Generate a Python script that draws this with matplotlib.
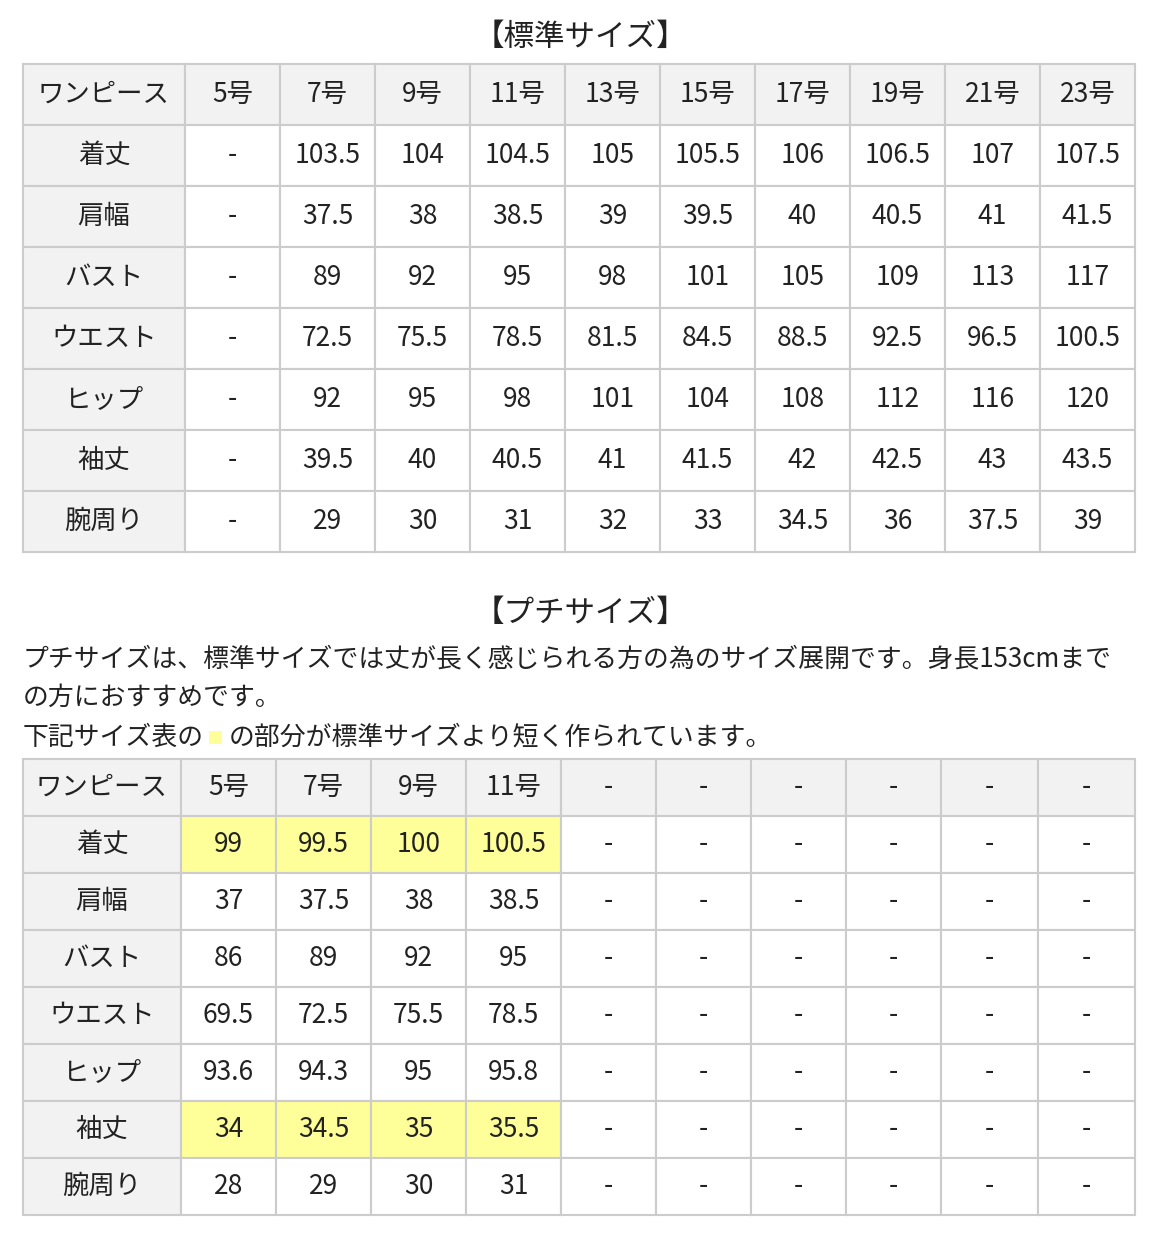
import matplotlib.pyplot as plt
from matplotlib.patches import Rectangle

plt.rcParams["font.family"] = "Noto Sans CJK JP"

row_labels = ["着丈", "肩幅", "バスト", "ウエスト", "ヒップ", "袖丈", "腕周り"]

std_sizes = ["5号", "7号", "9号", "11号", "13号", "15号", "17号", "19号", "21号", "23号"]
std_values = [
    ["-", "103.5", "104", "104.5", "105", "105.5", "106", "106.5", "107", "107.5"],
    ["-", "37.5", "38", "38.5", "39", "39.5", "40", "40.5", "41", "41.5"],
    ["-", "89", "92", "95", "98", "101", "105", "109", "113", "117"],
    ["-", "72.5", "75.5", "78.5", "81.5", "84.5", "88.5", "92.5", "96.5", "100.5"],
    ["-", "92", "95", "98", "101", "104", "108", "112", "116", "120"],
    ["-", "39.5", "40", "40.5", "41", "41.5", "42", "42.5", "43", "43.5"],
    ["-", "29", "30", "31", "32", "33", "34.5", "36", "37.5", "39"],
]

petite_sizes = ["5号", "7号", "9号", "11号", "-", "-", "-", "-", "-", "-"]
petite_values = [
    ["99", "99.5", "100", "100.5"],
    ["37", "37.5", "38", "38.5"],
    ["86", "89", "92", "95"],
    ["69.5", "72.5", "75.5", "78.5"],
    ["93.6", "94.3", "95", "95.8"],
    ["34", "34.5", "35", "35.5"],
    ["28", "29", "30", "31"],
]
petite_highlight_rows = [0, 5]

GRAY = "#f2f2f2"
EDGE = "#cccccc"
YELLOW = "#ffff99"
FS = 19

fig = plt.figure(figsize=(11.6, 12.6), dpi=100)
ax = fig.add_axes([0, 0, 1, 1])
ax.set_xlim(0, 1160)
ax.set_ylim(1260, 0)
ax.axis("off")


def draw_table(top, row_h, col_x, header, rows, highlight):
    n_rows = len(rows) + 1
    for r in range(n_rows):
        y = top + r * row_h
        for c in range(len(col_x) - 1):
            x0, x1 = col_x[c], col_x[c + 1]
            if r == 0 or c == 0:
                fc = GRAY
            elif (r - 1, c - 1) in highlight:
                fc = YELLOW
            else:
                fc = "white"
            ax.add_patch(Rectangle((x0, y), x1 - x0, row_h, fc=fc, ec=EDGE, lw=1.5))
            if r == 0:
                txt = "ワンピース" if c == 0 else header[c - 1]
            elif c == 0:
                txt = row_labels[r - 1]
            else:
                vals = rows[r - 1]
                txt = vals[c - 1] if c - 1 < len(vals) else "-"
            ax.text((x0 + x1) / 2, y + row_h / 2, txt, ha="center", va="center",
                    fontsize=FS, color="#222222")


ax.text(580, 37, "【標準サイズ】", ha="center", va="center", fontsize=22, color="#222222")
std_cols = [23, 185] + [280 + 95 * i for i in range(10)]
draw_table(64, 61, std_cols, std_sizes, std_values, set())

ax.text(580, 613, "【プチサイズ】", ha="center", va="center", fontsize=22, color="#222222")
ax.text(23, 659, "プチサイズは、標準サイズでは丈が長く感じられる方の為のサイズ展開です。身長153cmまで",
        ha="left", va="center", fontsize=18.6, color="#222222")
ax.text(23, 697, "の方におすすめです。", ha="left", va="center", fontsize=18.6, color="#222222")
ax.text(23, 737, "下記サイズ表の", ha="left", va="center", fontsize=18.6, color="#222222")
ax.add_patch(Rectangle((209, 731), 13, 13, fc=YELLOW, ec="none"))
ax.text(229, 737, "の部分が標準サイズより短く作られています。", ha="left", va="center",
        fontsize=18.6, color="#222222")

petite_cols = [23, 181, 276, 371, 466, 561, 656, 751, 846, 941, 1038, 1135]
hl = {(r, c) for r in petite_highlight_rows for c in range(4)}
draw_table(759, 57, petite_cols, petite_sizes, petite_values, hl)

fig.savefig("out.png", dpi=100)
